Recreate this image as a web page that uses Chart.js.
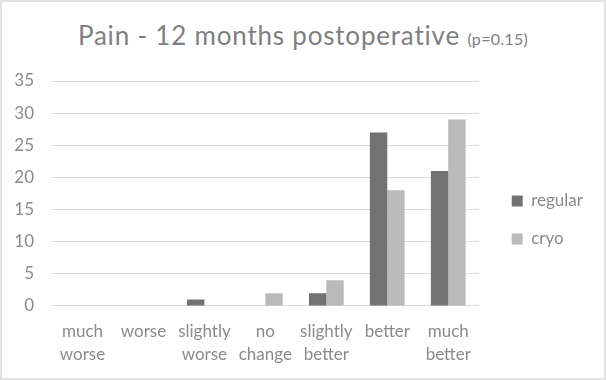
<!DOCTYPE html>
<html>
<head>
<meta charset="utf-8">
<script src="https://cdn.jsdelivr.net/npm/chart.js@4"></script>
<style>
  html, body { margin: 0; padding: 0; background: #fff; }
  #quadro {
    position: relative; width: 606px; height: 380px; box-sizing: border-box;
    border: 2px solid #e2e2e2; background: #fff;
  }
  #titulo {
    position: absolute; left: 0; right: 0; top: 17px; text-align: center;
    font-family: Lato, "Open Sans", sans-serif; color: #7f7f7f; font-size: 26px;
    letter-spacing: 0.8px; white-space: nowrap;
  }
  #titulo small { font-size: 16px; letter-spacing: 0.3px; }
  canvas { position: absolute; left: 0; top: 0; }
</style>
</head>
<body>
<div id="quadro">
  <div id="titulo">Pain - 12 months postoperative <small>(p=0.15)</small></div>
  <canvas id="graficoDor" width="602" height="376"></canvas>
</div>
<script>
// dados
var categorias = [["much", "worse"], "worse", ["slightly", "worse"], ["no", "change"], ["slightly", "better"], "better", ["much", "better"]];
var regular = [0, 0, 1, 0, 2, 27, 21];
var cryo = [0, 0, 0, 2, 4, 18, 29];
var ticksY = [0, 5, 10, 15, 20, 25, 30, 35];

var corTexto = '#8a8a8a';
var fonte = 'Lato, "Open Sans", sans-serif';

// empurra a legenda um pouco para a direita (gap maior que o padding)
const deslocaLegenda = {
    id: 'deslocaLegenda',
    afterLayout(chart) {
        chart.legend.left += 12;
        chart.legend.right += 12;
    }
};

let graficoDor = new Chart(document.getElementById('graficoDor'), {
    type: 'bar',
    data: {
        labels: categorias,
        datasets: [{
            label: 'regular',
            data: regular,
            backgroundColor: '#727272'
        }, {
            label: 'cryo',
            data: cryo,
            backgroundColor: '#bababa'
        }]
    },
    options: {
        responsive: false,
        animation: false,
        layout: { padding: { top: 79, left: 8, right: 23, bottom: -2 } },
        datasets: { bar: { categoryPercentage: 0.57, barPercentage: 1 } },
        plugins: {
            tooltip: { enabled: false },
            legend: {
                position: 'right',
                align: 'start',
                title: { display: true, text: ' ', padding: { top: 0, bottom: 76 } },
                labels: {
                    boxWidth: 11, boxHeight: 11, padding: 21,
                    color: corTexto,
                    font: { family: fonte, size: 17 }
                }
            }
        },
        scales: {
            x: {
                grid: { display: false, drawTicks: false },
                border: { display: false },
                ticks: {
                    color: corTexto, padding: 14, maxRotation: 0, autoSkip: false,
                    font: { family: fonte, size: 17, lineHeight: 1.353 }
                }
            },
            y: {
                min: 0, max: 35,
                afterBuildTicks: function (eixo) {
                    eixo.ticks = ticksY.map(function (v) { return { value: v }; });
                },
                afterFit: function (eixo) { eixo.width = 42; },
                grid: { color: '#d9d9d9', drawTicks: false },
                border: { display: false },
                ticks: {
                    color: corTexto, padding: 18,
                    font: { family: fonte, size: 17 }
                }
            }
        }
    },
    plugins: [deslocaLegenda]
});
</script>
</body>
</html>
